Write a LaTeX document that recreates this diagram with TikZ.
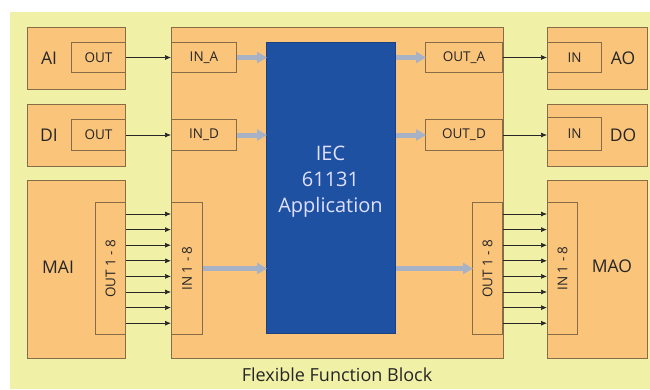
\documentclass[tikz,border=0pt]{standalone}
\usepackage{fontspec}
\setmainfont{Open Sans}
\usetikzlibrary{arrows.meta}

\definecolor{bgyellow}{RGB}{240,240,166}
\definecolor{blockorange}{RGB}{250,196,122}
\definecolor{edgebrown}{RGB}{135,108,72}
\definecolor{appblue}{RGB}{31,81,162}
\definecolor{flowgray}{RGB}{168,178,198}

\tikzset{every picture/.style={line width=0.75pt}}
\tikzset{
  block/.style={draw=edgebrown, fill=blockorange, line width=1pt, anchor=north west, inner sep=0pt},
  port/.style={block, font=\fontsize{13.5}{14}\selectfont, text=black!85},
  bigtext/.style={font=\fontsize{17.5}{19}\selectfont, text=black!85},
  sig/.style={-{Latex[length=6pt,width=5pt]}, line width=0.7pt, draw=black!85},
  flow/.style={-{Triangle[length=10pt,width=11pt]}, draw=flowgray, line width=5pt, shorten >=-1pt},
}

\begin{document}
\begin{tikzpicture}[x=1pt,y=1pt,yscale=-1,xscale=1]
	\useasboundingbox (0,0) rectangle (650,389);
	%background
	\fill[bgyellow] (10,12) rectangle (650,389);

	%Flexible function block
	\node[block, minimum width=332pt, minimum height=331pt] (ffb) at (171,27) {};
	\node[block, fill=appblue, draw=appblue!80!black, minimum width=129pt, minimum height=291pt] (app) at (266,42) {};
	\node[align=center, text=white!88!blue, font=\fontsize{20}{26}\selectfont] (applabel) at (330.5,182) {IEC\\61131\\Application};
	\node[font=\fontsize{18}{20}\selectfont, text=black!85] (ffblabel) at (337,375) {Flexible Function Block};

	%Input modules
	\node[block, minimum width=98pt, minimum height=62pt] (ai) at (27,27) {};
	\node[bigtext] (ailabel) at (49,58) {AI};
	\node[port, minimum width=54pt, minimum height=30pt] (aiout) at (71,42) {OUT};
	\node[block, minimum width=98pt, minimum height=62pt] (di) at (27,104) {};
	\node[bigtext] (dilabel) at (49,135) {DI};
	\node[port, minimum width=54pt, minimum height=31pt] (diout) at (71,119) {OUT};
	\node[block, minimum width=98pt, minimum height=178pt] (mai) at (27,180) {};
	\node[bigtext] (mailabel) at (58,267) {MAI};
	\node[port, minimum width=30pt, minimum height=132pt] (maiout) at (95,202) {};
	\node[font=\fontsize{13.5}{14}\selectfont, text=black!85, rotate=90] (maioutlabel) at (maiout.center) {OUT 1 - 8};

	%Ports of the function block
	\node[port, minimum width=65pt, minimum height=30pt] (ina) at (171,42) {IN\_A};
	\node[port, minimum width=65pt, minimum height=31pt] (ind) at (171,119) {IN\_D};
	\node[port, minimum width=31pt, minimum height=132pt] (inm) at (171,202) {};
	\node[font=\fontsize{13.5}{14}\selectfont, text=black!85, rotate=90] (inmlabel) at (inm.center) {IN 1 - 8};
	\node[port, minimum width=77pt, minimum height=30pt] (outa) at (425,42) {OUT\_A};
	\node[port, minimum width=77pt, minimum height=31pt] (outd) at (425,119) {OUT\_D};
	\node[port, minimum width=30pt, minimum height=132pt] (outm) at (472,202) {};
	\node[font=\fontsize{13.5}{14}\selectfont, text=black!85, rotate=90] (outmlabel) at (outm.center) {OUT 1 - 8};

	%Output modules
	\node[block, minimum width=100pt, minimum height=62pt] (ao) at (547,27) {};
	\node[bigtext] (aolabel) at (623,58) {AO};
	\node[port, minimum width=54pt, minimum height=30pt] (aoin) at (547,42) {IN};
	\node[block, minimum width=100pt, minimum height=62pt] (do) at (547,104) {};
	\node[bigtext] (dolabel) at (623,135) {DO};
	\node[port, minimum width=54pt, minimum height=33pt] (doin) at (547,117) {IN};
	\node[block, minimum width=100pt, minimum height=178pt] (mao) at (547,180) {};
	\node[bigtext] (maolabel) at (612,266) {MAO};
	\node[port, minimum width=30pt, minimum height=132pt] (maoin) at (547,202) {};
	\node[font=\fontsize{13.5}{14}\selectfont, text=black!85, rotate=90] (maoinlabel) at (maoin.center) {IN 1 - 8};

	%Signal connections
	\draw[sig] (aiout.east) -- (ina.west);
	\draw[sig] (diout.east) -- (ind.west);
	\draw[sig] (outa.east) -- (aoin.west);
	\draw[sig] (outd.east) -- (outd.east -| doin.west);
	\foreach \k in {0,...,7} {
		\draw[sig] ([yshift={(12+15.6*\k)*1pt}]maiout.north east) -- ([yshift={(12+15.6*\k)*1pt}]inm.north west);
		\draw[sig] ([yshift={(12+15.6*\k)*1pt}]outm.north east) -- ([yshift={(12+15.6*\k)*1pt}]maoin.north west);
	}

	%Data flow inside the block
	\draw[flow] (ina.east) -- (app.west |- ina.east);
	\draw[flow] (ind.east) -- (app.west |- ind.east);
	\draw[flow] (inm.east) -- (app.west |- inm.east);
	\draw[flow] (app.east |- outa.west) -- (outa.west);
	\draw[flow] (app.east |- outd.west) -- (outd.west);
	\draw[flow] (app.east |- outm.west) -- (outm.west);
\end{tikzpicture}
\end{document}
